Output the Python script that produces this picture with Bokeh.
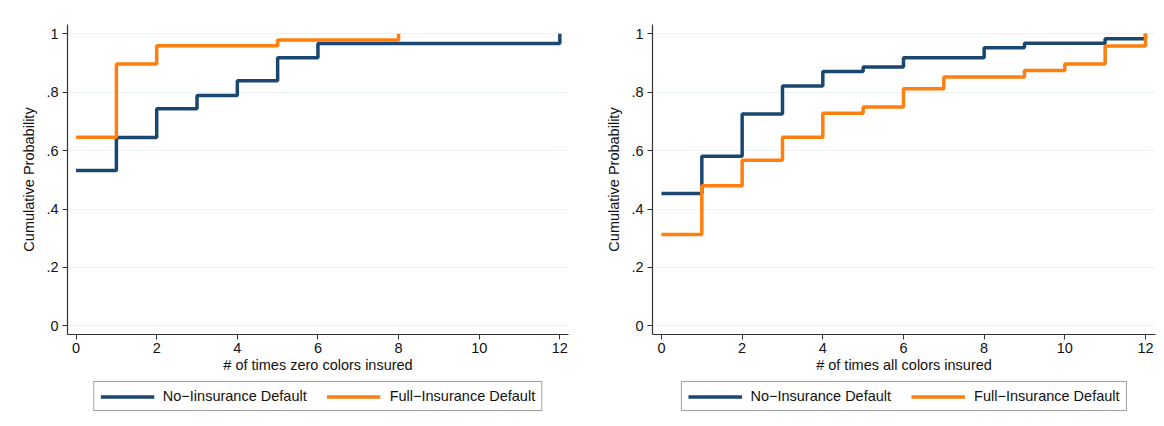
from bokeh.plotting import figure
from bokeh.layouts import row, column
from bokeh.models import FixedTicker, Legend, LegendItem, Range1d
from bokeh.embed import file_html
from bokeh.resources import INLINE

# ---- data ----
y_ticks = [0, 0.2, 0.4, 0.6, 0.8, 1.0]
y_tick_labels = ["0", ".2", ".4", ".6", ".8", "1"]
x_ticks = [0, 2, 4, 6, 8, 10, 12]

# Left panel: # of times zero colors insured
zero_no_x = [0, 1, 2, 3, 4, 5, 6, 12]
zero_no_y = [0.532, 0.645, 0.743, 0.789, 0.839, 0.918, 0.967, 1.0]
zero_full_x = [0, 1, 2, 5, 8]
zero_full_y = [0.646, 0.897, 0.959, 0.979, 1.0]

# Right panel: # of times all colors insured
all_no_x = [0, 1, 2, 3, 4, 5, 6, 8, 9, 11, 12]
all_no_y = [0.453, 0.581, 0.725, 0.821, 0.871, 0.886, 0.918, 0.952, 0.968, 0.983, 1.0]
all_full_x = [0, 1, 2, 3, 4, 5, 6, 7, 9, 10, 11, 12]
all_full_y = [0.313, 0.480, 0.567, 0.646, 0.728, 0.749, 0.812, 0.852, 0.874, 0.897, 0.958, 1.0]

BLUE = "#1a476f"
ORANGE = "#ff7f0e"
FONT = "Liberation Sans"
AXIS = "#333333"
LW = 3.5
FS = "14.5px"


def panel(nx, ny, fx, fy, xlabel, bl, br, xr):
    p = figure(width=582, height=380, output_backend="svg", toolbar_location=None,
               x_range=Range1d(*xr), y_range=Range1d(-0.0294, 1.0318),
               min_border_left=bl, min_border_right=br, min_border_top=24,
               min_border_bottom=46)
    p.outline_line_color = None
    p.background_fill_color = "white"
    p.border_fill_color = "white"
    p.xgrid.visible = False
    p.ygrid.grid_line_color = "#eaf2f3"
    p.ygrid.grid_line_width = 1
    p.ygrid.ticker = FixedTicker(ticks=y_ticks)

    for ax in (p.xaxis[0], p.yaxis[0]):
        ax.axis_line_color = AXIS
        ax.axis_line_width = 1.2
        ax.major_tick_line_color = AXIS
        ax.major_tick_in = 0
        ax.major_tick_out = 5
        ax.minor_tick_line_color = None
        ax.major_label_text_font = FONT
        ax.major_label_text_font_size = FS
        ax.major_label_text_color = "#111111"
        ax.axis_label_text_font = FONT
        ax.axis_label_text_font_size = FS
        ax.axis_label_text_font_style = "normal"
        ax.axis_label_text_color = "#111111"

    p.xaxis.ticker = FixedTicker(ticks=x_ticks)
    p.yaxis.ticker = FixedTicker(ticks=y_ticks)
    p.yaxis.major_label_overrides = {t: l for t, l in zip(y_ticks, y_tick_labels)}
    p.yaxis.major_label_orientation = "horizontal"
    p.xaxis.axis_label = xlabel
    p.yaxis.axis_label = "Cumulative Probability"
    p.xaxis.major_label_standoff = 3
    p.xaxis.axis_label_standoff = 1
    p.yaxis.major_label_standoff = 4
    p.yaxis.axis_label_standoff = 6

    p.step(nx, ny, mode="after", line_color=BLUE, line_width=LW)
    p.step(fx, fy, mode="after", line_color=ORANGE, line_width=LW)
    return p


def legend_fig(nx, ny, fx, fy, no_label, full_label, bl, br):
    # legend-only strip: the series are keyed here but kept out of view
    q = figure(width=582, height=46, output_backend="svg", toolbar_location=None,
               x_range=Range1d(-100, -99), y_range=Range1d(-100, -99),
               x_axis_location=None, y_axis_location=None,
               min_border_left=bl, min_border_right=br, min_border_top=0,
               min_border_bottom=0)
    q.outline_line_color = None
    q.grid.visible = False
    q.background_fill_color = "white"
    q.border_fill_color = "white"
    r1 = q.step(nx, ny, mode="after", line_color=BLUE, line_width=LW)
    r2 = q.step(fx, fy, mode="after", line_color=ORANGE, line_width=LW)
    leg = Legend(items=[LegendItem(label=no_label, renderers=[r1]),
                        LegendItem(label=full_label, renderers=[r2])],
                 orientation="horizontal", location="top_center")
    leg.label_text_font = FONT
    leg.label_text_font_size = FS
    leg.label_text_color = "#111111"
    leg.glyph_width = 54
    leg.glyph_height = 15
    leg.label_height = 15
    leg.label_standoff = 9
    leg.spacing = 20
    leg.padding = 6
    leg.margin = 1
    leg.border_line_color = "#444444"
    leg.border_line_width = 1
    leg.background_fill_color = "white"
    leg.background_fill_alpha = 1
    q.add_layout(leg, "center")
    return q


p1 = panel(zero_no_x, zero_no_y, zero_full_x, zero_full_y,
           "# of times zero colors insured", 67, 14, (-0.213, 12.215))
p2 = panel(all_no_x, all_no_y, all_full_x, all_full_y,
           "# of times all colors insured", 70, 9, (-0.223, 12.249))
l1 = legend_fig(zero_no_x, zero_no_y, zero_full_x, zero_full_y,
                "No\u2212Iinsurance Default", "Full\u2212Insurance Default", 67, 14)
l2 = legend_fig(all_no_x, all_no_y, all_full_x, all_full_y,
                "No\u2212Insurance Default", "Full\u2212Insurance Default", 70, 9)

layout = column(row(p1, p2), row(l1, l2))
open("out.html", "w").write(file_html(layout, INLINE))
